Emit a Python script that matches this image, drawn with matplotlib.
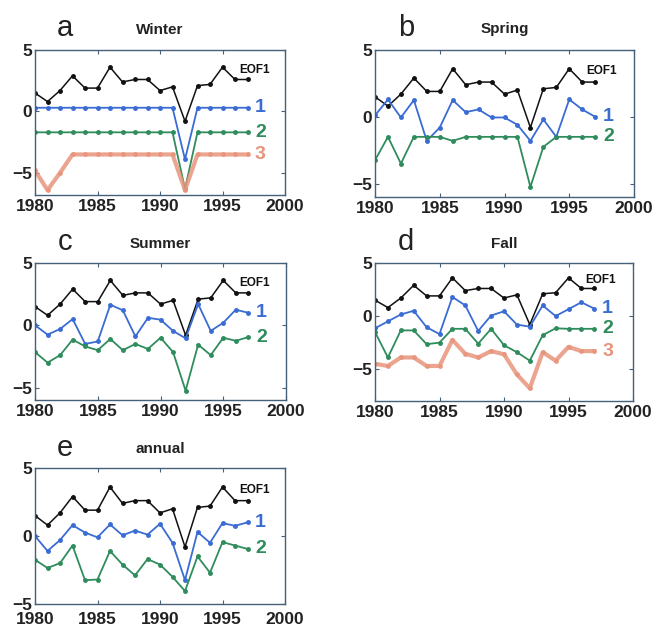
import matplotlib
matplotlib.use("Agg")
import matplotlib.pyplot as plt
import numpy as np

plt.rcParams['font.family'] = ['Liberation Sans', 'DejaVu Sans']

years = np.arange(1980, 1998)

# EOF1 is the same in every panel
eof1 = [1.5, 0.8, 1.7, 2.9, 1.9, 1.9, 3.6, 2.4, 2.6, 2.6, 1.7, 2.0, -0.8, 2.1, 2.2, 3.6, 2.6, 2.6]

winter_1 = [0.3] * 12 + [-3.9] + [0.3] * 5
winter_2 = [-1.7] * 12 + [-6.3] + [-1.7] * 5
winter_3 = [-4.8, -6.4, -5.0] + [-3.5] * 9 + [-6.4] + [-3.5] * 5

spring_1 = [0.1, 1.3, -0.05, 1.25, -1.8, -0.8, 1.25, 0.35, 0.55, -0.05, -0.05, -0.6,
            -1.8, -0.2, -1.5, 1.3, 0.55, 0.0]
spring_2 = [-3.25, -1.5, -3.5, -1.5, -1.5, -1.5, -1.8, -1.5, -1.5, -1.5, -1.5, -1.5,
            -5.25, -2.25, -1.5, -1.5, -1.5, -1.5]

summer_1 = [0.0, -0.75, -0.3, 0.5, -1.5, -1.3, 1.65, 1.2, -0.9, 0.6, 0.45, -0.45,
            -1.05, 1.7, -0.45, 0.2, 1.25, 1.0]
summer_2 = [-2.15, -3.0, -2.4, -1.15, -1.7, -2.0, -1.1, -2.0, -1.5, -1.9, -1.0, -2.15,
            -5.25, -1.55, -2.4, -1.0, -1.25, -0.95]

fall_1 = [-1.15, -0.5, 0.15, 0.5, -1.05, -1.7, 1.8, 1.0, -1.4, 0.05, 0.45, -0.8,
          -1.0, 1.0, 0.0, 0.65, 1.3, 0.7]
fall_2 = [-1.5, -3.9, -1.35, -1.35, -2.65, -2.5, -1.2, -1.2, -2.6, -1.2, -2.75, -3.4,
          -4.2, -1.8, -1.15, -1.2, -1.2, -1.2]
fall_3 = [-4.5, -4.7, -3.9, -3.9, -4.7, -4.7, -2.25, -3.55, -3.9, -3.3, -3.6, -5.5,
          -6.8, -3.4, -4.2, -2.9, -3.3, -3.3]

annual_1 = [0.0, -1.1, -0.3, 0.8, 0.25, -0.1, 0.85, 0.05, 0.4, 0.1, 0.9, -0.5,
            -3.25, 0.3, -0.5, 0.95, 0.75, 1.0]
annual_2 = [-1.75, -2.35, -2.0, -0.7, -3.25, -3.2, -1.1, -2.1, -2.9, -1.7, -2.1, -3.0,
            -4.05, -1.5, -2.7, -0.45, -0.7, -0.95]

xticks = [1980, 1985, 1990, 1995, 2000]
yticks = [-5, 0, 5]

c_eof = '#111111'
c1 = '#3a6cd4'
c2 = '#2f8c5c'
c3 = '#e8947c'
spine_c = '#46607a'

fig = plt.figure(figsize=(6.56, 6.28), dpi=100)
W, H = 656, 628


def make_ax(left, top, right, bottom):
    return fig.add_axes([left / W, 1 - bottom / H, (right - left) / W, (bottom - top) / H])


def panel(ax, letter, title, ylim, series, xpad=3):
    ax.plot(years, eof1, '-o', color=c_eof, lw=1.1, ms=2.5)
    ax.text(1996.3, 3.4, 'EOF1', color=c_eof, fontsize=8.5, fontweight='bold',
            ha='left', va='center')
    for vals, col, lab, lw in series:
        ax.plot(years, vals, '-o', color=col, lw=lw, ms=2.5, alpha=0.85 if lw > 2 else 1)
        ax.text(1997.6, vals[-1], lab, color=col, fontsize=14, fontweight='bold',
                ha='left', va='center')
    ax.set_xlim(1980, 2000)
    ax.set_ylim(*ylim)
    ax.set_xticks(xticks)
    ax.set_yticks(yticks)
    ax.tick_params(direction='in', top=True, right=True, length=3, color=spine_c,
                   labelsize=12.5, pad=2)
    ax.tick_params(axis='x', pad=xpad)
    for lbl in ax.get_xticklabels() + ax.get_yticklabels():
        lbl.set_fontweight('bold')
        lbl.set_color('#222222')
    for sp in ax.spines.values():
        sp.set_color(spine_c)
        sp.set_linewidth(1.0)
    ax.text(0.12, 1.15, letter, transform=ax.transAxes, fontsize=21, ha='center',
            va='center', color='#222222')
    ax.text(0.5, 1.14, title, transform=ax.transAxes, fontsize=11, ha='center',
            va='center', color='#222222', fontweight='bold')


ax_a = make_ax(35, 50, 285, 195)
panel(ax_a, 'a', 'Winter', (-6.8, 5),
      [(winter_1, c1, '1', 1.3), (winter_2, c2, '2', 1.3), (winter_3, c3, '3', 3.0)])

ax_b = make_ax(375, 50, 634, 197)
panel(ax_b, 'b', 'Spring', (-6, 5),
      [(spring_1, c1, '1', 1.3), (spring_2, c2, '2', 1.3)])

ax_c = make_ax(35, 263, 286, 400)
panel(ax_c, 'c', 'Summer', (-6, 5),
      [(summer_1, c1, '1', 1.3), (summer_2, c2, '2', 1.3)])

ax_d = make_ax(375, 263, 633, 401)
panel(ax_d, 'd', 'Fall', (-8, 5),
      [(fall_1, c1, '1', 1.3), (fall_2, c2, '2', 1.3), (fall_3, c3, '3', 3.0)])

ax_e = make_ax(35, 468, 285, 604)
panel(ax_e, 'e', 'annual', (-5, 5),
      [(annual_1, c1, '1', 1.3), (annual_2, c2, '2', 1.3)], xpad=6)

fig.savefig('out.png', dpi=100)
